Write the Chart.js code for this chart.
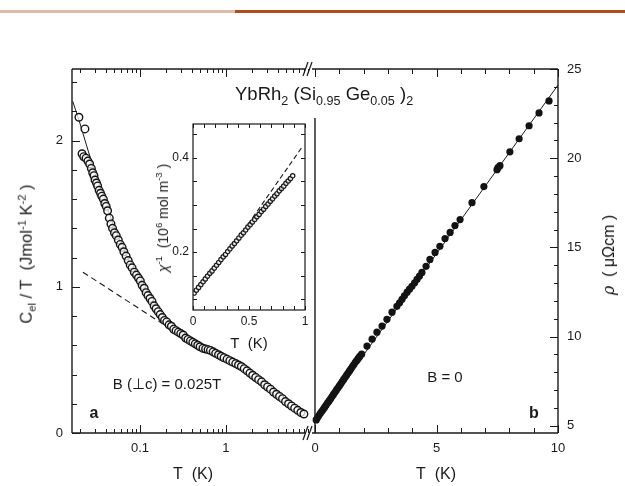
<!DOCTYPE html>
<html><head><meta charset="utf-8">
<script src="https://cdn.jsdelivr.net/npm/chart.js@4.4.0/dist/chart.umd.min.js"></script>
<style>
html,body{margin:0;padding:0;background:#fff;width:625px;height:486px;overflow:hidden;position:relative;}
canvas{position:absolute;left:0;top:0;}
.t{position:absolute;font-family:"Liberation Sans",Arial,Helvetica,sans-serif;color:#1a1a1a;white-space:nowrap;line-height:1;}
.rot{transform:translate(-50%,-50%) rotate(-90deg);}
.c{transform:translate(-50%,-50%);}
sub,sup{font-size:68%;line-height:0;}
</style></head>
<body>
<div style="position:absolute;left:0;top:10px;width:235px;height:3px;background:#dcbca8"></div>
<div style="position:absolute;left:235px;top:10px;width:390px;height:3px;background:#b24c1c"></div>
<canvas id="cA" width="625" height="486"></canvas>
<canvas id="cB" width="625" height="486"></canvas>
<canvas id="cC" width="625" height="486"></canvas>

<div class="t" style="left:235px;top:85px;font-size:18.5px">YbRh<sub>2</sub> (Si<sub>0.95</sub> Ge<sub>0.05</sub> )<sub>2</sub></div>
<div class="t rot" style="left:26px;top:254px;font-size:16.5px">C<sub>el</sub> / T&nbsp;&nbsp;(Jmol<sup>-1</sup> K<sup>-2</sup> )</div>
<div class="t rot" style="left:609px;top:255px;font-size:16px;color:#111"><span style="font-style:italic;font-family:'DejaVu Serif',serif">ρ</span>&nbsp;&nbsp;( μΩcm )</div>
<div class="t c" style="left:193px;top:474px;font-size:16px">T&nbsp;&nbsp;(K)</div>
<div class="t c" style="left:436px;top:474px;font-size:16px">T&nbsp;&nbsp;(K)</div>
<div class="t c" style="left:249px;top:342px;font-size:15px">T&nbsp;&nbsp;(K)</div>
<div class="t rot" style="left:163px;top:218px;font-size:14px"><i>χ</i><sup>-1</sup>&nbsp;&nbsp;(10<sup>6</sup> mol m<sup>-3</sup> )</div>
<div class="t c" style="left:167px;top:383px;font-size:15px">B (⊥c) = 0.025T</div>
<div class="t c" style="left:445px;top:376px;font-size:15px">B = 0</div>
<div class="t c" style="left:94px;top:413px;font-size:16px;font-weight:bold">a</div>
<div class="t c" style="left:534px;top:413px;font-size:16px;font-weight:bold">b</div>

<script>
// ---------- data: panel a (C_el/T vs T, log T) ----------
const cT = [0.0195,0.0229,0.0212,0.0222,0.0236,0.0248,0.0260,0.0272,0.0282,0.0292,0.0300,0.0312,0.0322,0.0335,0.0348,0.0360,0.0375,0.0390,0.0405,0.0420,0.0440,0.0460,0.0480,0.0505,0.0530,0.0560,0.0590,0.0620,0.0650,0.0690,0.0730,0.0770,0.0810,0.0860,0.0910,0.0960,0.1010,0.106,0.112,0.118,0.124,0.131,0.138,0.146,0.154,0.163,0.172,0.182,0.193,0.205,0.218,0.232,0.247,0.263,0.280,0.298,0.318,0.340,0.362,0.386,0.412,0.44,0.47,0.50,0.54,0.58,0.62,0.66,0.71,0.76,0.82,0.88,0.95,1.03,1.11,1.20,1.30,1.40,1.51,1.63,1.76,1.90,2.05,2.22,2.40,2.60,2.82,3.05,3.30,3.58,3.88,4.20,4.55,4.93,5.35,5.80,6.30,6.85,7.45,8.07];
const cVal = [2.16,2.08,1.91,1.89,1.88,1.86,1.84,1.81,1.78,1.76,1.73,1.71,1.69,1.66,1.64,1.62,1.60,1.57,1.55,1.52,1.47,1.43,1.40,1.37,1.35,1.32,1.29,1.27,1.24,1.21,1.18,1.15,1.13,1.10,1.08,1.06,1.04,1.01,0.99,0.96,0.94,0.92,0.90,0.87,0.85,0.83,0.81,0.79,0.77,0.76,0.74,0.73,0.71,0.70,0.69,0.68,0.67,0.65,0.64,0.63,0.62,0.61,0.60,0.59,0.58,0.575,0.57,0.565,0.555,0.545,0.535,0.525,0.515,0.505,0.495,0.485,0.475,0.465,0.455,0.44,0.425,0.41,0.395,0.38,0.365,0.35,0.33,0.315,0.30,0.28,0.265,0.25,0.235,0.215,0.20,0.185,0.17,0.155,0.14,0.13];
const cFitT = [0.0165,0.02,0.025,0.03,0.04,0.05,0.07,0.1,0.12];
const cFitV = [2.27,2.12,1.93,1.78,1.57,1.41,1.21,1.04,0.96];
const cDashT = [0.0217,0.18];
const cDashV = [1.10,0.75];
const cTickLabels = [0.1,1];
const cYTickLabels = [0,1,2];

// ---------- data: panel b (rho vs T) ----------
const rT = [0.05,0.10,0.16,0.22,0.28,0.34,0.40,0.46,0.52,0.58,0.64,0.70,0.76,0.82,0.88,0.94,1.00,1.06,1.12,1.18,1.24,1.30,1.36,1.42,1.48,1.54,1.60,1.66,1.72,1.78,1.84,1.92,2.14,2.35,2.55,2.76,2.96,3.17,3.37,3.48,3.58,3.68,3.79,3.89,3.99,4.10,4.20,4.30,4.40,4.57,4.73,4.94,5.14,5.35,5.56,5.76,5.97,6.46,6.95,7.49,7.53,7.61,8.02,8.40,8.81,9.22,9.63];
const rVal = [5.33,5.45,5.58,5.70,5.82,5.93,6.05,6.17,6.29,6.40,6.52,6.64,6.76,6.88,7.00,7.12,7.24,7.36,7.48,7.60,7.72,7.84,7.96,8.08,8.20,8.32,8.44,8.56,8.67,8.78,8.89,9.02,9.47,9.86,10.25,10.59,10.97,11.37,11.70,11.90,12.09,12.29,12.49,12.66,12.82,13.02,13.21,13.40,13.60,13.94,14.33,14.72,15.06,15.50,15.84,16.23,16.56,17.51,18.41,19.36,19.47,19.58,20.36,21.09,21.82,22.54,23.21];
const rFitT = [0,10];
const rFitV = [5.2,24.1];
const rTickLabels = [0,5,10];
const rYTickLabels = [5,10,15,20,25];

// ---------- data: inset (chi^-1 vs T) ----------
const iT = [0.01,0.03,0.05,0.07,0.09,0.11,0.13,0.15,0.17,0.19,0.21,0.23,0.25,0.27,0.29,0.31,0.33,0.35,0.37,0.39,0.41,0.43,0.45,0.47,0.49,0.51,0.53,0.55,0.57,0.59,0.61,0.63,0.65,0.67,0.69,0.71,0.73,0.75,0.77,0.79,0.81,0.83,0.85,0.87,0.89];
const iVal = [0.113,0.119,0.125,0.131,0.137,0.143,0.149,0.155,0.160,0.166,0.172,0.178,0.184,0.190,0.195,0.201,0.207,0.213,0.218,0.224,0.230,0.236,0.241,0.247,0.253,0.258,0.264,0.269,0.275,0.280,0.286,0.291,0.297,0.302,0.308,0.313,0.319,0.324,0.330,0.335,0.340,0.346,0.351,0.356,0.362];
const iDashT = [0.45,0.98];
const iDashV = [0.245,0.425];
const iTickLabels = [0,0.5,1];
const iYTickLabels = [0.2,0.4];

// ---------- helpers ----------
const zip = (a,b)=>a.map((v,i)=>({x:v,y:b[i]}));
Chart.defaults.font.family = '"Liberation Sans", Arial, Helvetica, sans-serif';
Chart.defaults.color = '#1a1a1a';
const INK = '#1a1a1a';

function seg(ctx,x1,y1,x2,y2){ctx.beginPath();ctx.moveTo(x1,y1);ctx.lineTo(x2,y2);ctx.stroke();}
function inTicks(chart, id, vals, len, side){
  const s = chart.scales[id], a = chart.chartArea, ctx = chart.ctx;
  vals.forEach(v=>{
    const p = Math.round(s.getPixelForValue(v))+0.5;
    if(side==='bottom') seg(ctx,p,a.bottom,p,a.bottom-len);
    else if(side==='top') seg(ctx,p,a.top,p,a.top+len);
    else if(side==='left') seg(ctx,a.left,p,a.left+len,p);
    else seg(ctx,a.right,p,a.right-len,p);
  });
}
function logMinors(min,max){
  const out=[];
  for(let e=-2;e<=1;e++){for(let m=2;m<=9;m++){const v=m*Math.pow(10,e); if(v>=min&&v<=max) out.push(v);}}
  return out;
}
function range(a,b,st){const o=[];for(let v=a;v<=b+1e-9;v+=st) o.push(+v.toFixed(4));return o;}
function fixedTicks(list){return s=>{s.ticks = list.map(v=>({value:v}));};}

const baseOpts = (pad)=>({
  responsive:false, animation:false, events:[],
  layout:{padding:pad},
  plugins:{legend:{display:false},tooltip:{enabled:false}}
});

// ---------- panel a ----------
const xaMin=0.0162, xaMax=9.5;
const frameA = {id:'frameA', afterDraw(chart){
  const ctx=chart.ctx, a=chart.chartArea;
  ctx.save(); ctx.strokeStyle=INK; ctx.lineWidth=1.4; ctx.lineCap='butt';
  seg(ctx,a.left,a.top,a.left,a.bottom);
  seg(ctx,a.left,a.top,305,a.top);
  seg(ctx,a.left,a.bottom,305,a.bottom);
  ctx.lineWidth=1.2;
  seg(ctx,303,a.top+7,308,a.top-7); seg(ctx,307,a.top+7,312,a.top-7);
  seg(ctx,303,a.bottom+7,308,a.bottom-7); seg(ctx,307,a.bottom+7,312,a.bottom-7);
  ctx.lineWidth=1;
  inTicks(chart,'x',cTickLabels,8,'bottom'); inTicks(chart,'x',cTickLabels,8,'top');
  const mn = logMinors(xaMin,xaMax);
  inTicks(chart,'x',mn,4,'bottom'); inTicks(chart,'x',mn,4,'top');
  inTicks(chart,'y',cYTickLabels,8,'left');
  inTicks(chart,'y',range(0.2,2.4,0.2),5,'left');
  ctx.restore();
}};
new Chart(document.getElementById('cA'),{
  type:'scatter',
  data:{datasets:[
    {data:zip(cT,cVal), pointRadius:3.8, pointBorderWidth:1.4, pointBorderColor:'#151515', pointBackgroundColor:'rgba(250,250,250,0.75)', showLine:false, clip:false},
    {data:zip(cFitT,cFitV), showLine:true, borderColor:INK, borderWidth:1, pointRadius:0, clip:false},
    {data:zip(cDashT,cDashV), showLine:true, borderColor:INK, borderWidth:1.1, borderDash:[6,4], pointRadius:0}
  ]},
  options:Object.assign(baseOpts({left:0,top:69,right:315,bottom:0}),{
    scales:{
      x:{type:'logarithmic',position:'bottom',min:xaMin,max:xaMax,
         grid:{display:false,drawTicks:false},border:{display:false},
         afterBuildTicks:fixedTicks(cTickLabels), afterFit:s=>{s.height=53;},
         ticks:{callback:v=>String(v),autoSkip:false,maxRotation:0,padding:8,font:{size:13}}},
      y:{type:'linear',position:'left',min:0,max:2.49,
         grid:{display:false,drawTicks:false},border:{display:false},
         afterBuildTicks:fixedTicks(cYTickLabels), afterFit:s=>{s.width=72;},
         ticks:{callback:v=>String(v),autoSkip:false,padding:9,font:{size:13}}}
    }
  }),
  plugins:[frameA]
});

// ---------- panel b ----------
const frameB = {id:'frameB', afterDraw(chart){
  const ctx=chart.ctx, a=chart.chartArea;
  ctx.save(); ctx.strokeStyle=INK; ctx.lineWidth=1.4;
  seg(ctx,312,a.top,a.right,a.top);
  seg(ctx,312,a.bottom,a.right,a.bottom);
  seg(ctx,a.right,a.top,a.right,a.bottom);
  seg(ctx,a.left,118,a.left,a.bottom);
  ctx.lineWidth=1;
  inTicks(chart,'x',rTickLabels,8,'bottom'); inTicks(chart,'x',rTickLabels,8,'top');
  inTicks(chart,'x',range(1,9,1),5,'bottom'); inTicks(chart,'x',range(1,9,1),5,'top');
  inTicks(chart,'y',rYTickLabels,8,'right');
  inTicks(chart,'y',range(5,25,1),4,'right');
  ctx.restore();
}};
new Chart(document.getElementById('cB'),{
  type:'scatter',
  data:{datasets:[
    {data:zip(rT,rVal), pointRadius:3.6, pointBorderWidth:0, pointBackgroundColor:'#131313', showLine:false, clip:false},
    {data:zip(rFitT,rFitV), showLine:true, borderColor:INK, borderWidth:1, pointRadius:0, clip:false}
  ]},
  options:Object.assign(baseOpts({left:315,top:69,right:0,bottom:0}),{
    scales:{
      x:{type:'linear',position:'bottom',min:0,max:10,
         grid:{display:false,drawTicks:false},border:{display:false},
         afterBuildTicks:fixedTicks(rTickLabels), afterFit:s=>{s.height=53;},
         ticks:{callback:v=>String(v),autoSkip:false,maxRotation:0,padding:8,font:{size:13}}},
      y:{type:'linear',position:'right',min:4.6,max:25,
         grid:{display:false,drawTicks:false},border:{display:false},
         afterBuildTicks:fixedTicks(rYTickLabels), afterFit:s=>{s.width=67;},
         ticks:{callback:v=>String(v),autoSkip:false,padding:9,font:{size:13}}}
    }
  }),
  plugins:[frameB]
});

// ---------- inset ----------
const frameC = {id:'frameC', afterDraw(chart){
  const ctx=chart.ctx, a=chart.chartArea;
  ctx.save(); ctx.strokeStyle=INK; ctx.lineWidth=1.2;
  ctx.strokeRect(a.left,a.top,a.right-a.left,a.bottom-a.top);
  ctx.lineWidth=1;
  const xm = range(0,1,0.1);
  inTicks(chart,'x',xm,4,'bottom'); inTicks(chart,'x',xm,4,'top');
  const ym = range(0.1,0.45,0.05);
  inTicks(chart,'y',ym,4,'left'); inTicks(chart,'y',ym,4,'right');
  ctx.restore();
}};
new Chart(document.getElementById('cC'),{
  type:'scatter',
  data:{datasets:[
    {data:zip(iT,iVal), pointRadius:2.2, pointBorderWidth:1.2, pointBorderColor:'#1a1a1a', pointBackgroundColor:'rgba(245,245,245,0.7)', showLine:false},
    {data:zip(iDashT,iDashV), showLine:true, borderColor:INK, borderWidth:1.1, borderDash:[5,3], pointRadius:0}
  ]},
  options:Object.assign(baseOpts({left:160,top:124,right:320,bottom:0}),{
    scales:{
      x:{type:'linear',position:'bottom',min:0,max:1,
         grid:{display:false,drawTicks:false},border:{display:false},
         afterBuildTicks:fixedTicks(iTickLabels), afterFit:s=>{s.height=176;},
         ticks:{callback:v=>String(v),autoSkip:false,maxRotation:0,padding:4,font:{size:12}}},
      y:{type:'linear',position:'left',min:0.077,max:0.472,
         grid:{display:false,drawTicks:false},border:{display:false},
         afterBuildTicks:fixedTicks(iYTickLabels), afterFit:s=>{s.width=33;},
         ticks:{callback:v=>String(v),autoSkip:false,padding:4,font:{size:12}}}
    }
  }),
  plugins:[frameC]
});
</script>
</body></html>
